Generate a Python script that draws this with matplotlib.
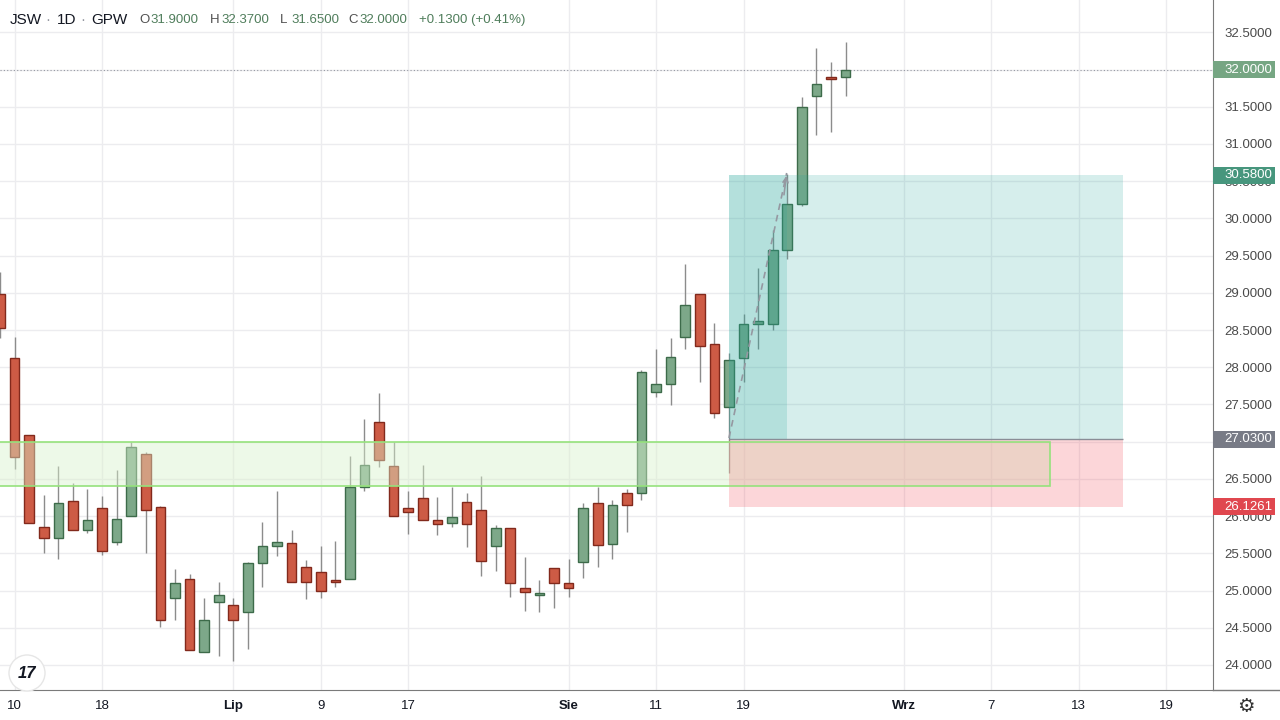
import matplotlib
matplotlib.use("Agg")
import matplotlib.pyplot as plt
from matplotlib.patches import Rectangle, Ellipse
from matplotlib.lines import Line2D

plt.rcParams['font.family'] = ['Liberation Sans', 'DejaVu Sans']

# daily candles, left to right (bar index = position)
opens = [28.99, 28.12, 27.09, 25.85, 25.71, 26.20, 25.81, 26.11, 25.65, 26.00,
         26.84, 26.12, 24.90, 25.15, 24.17, 24.84, 24.80, 24.71, 25.37, 25.60,
         25.64, 25.32, 25.25, 25.14, 25.16, 26.39, 27.27, 26.68, 26.11, 26.25,
         25.95, 25.91, 26.19, 26.08, 25.60, 25.84, 25.03, 24.94, 25.30, 25.10,
         25.39, 26.18, 25.62, 26.31, 26.31, 27.67, 27.78, 28.40, 28.99, 28.31,
         27.47, 28.12, 28.58, 28.58, 29.58, 30.20, 31.64, 31.90, 31.90]
highs = [29.28, 28.41, 27.09, 26.28, 26.68, 26.45, 26.36, 26.27, 26.62, 27.00,
         26.86, 26.14, 25.29, 25.22, 24.90, 25.11, 24.90, 25.39, 25.92, 26.34,
         25.81, 25.41, 25.60, 25.66, 26.81, 27.30, 27.65, 27.00, 26.34, 26.69,
         26.26, 26.39, 26.31, 26.54, 25.88, 25.84, 25.45, 25.14, 25.30, 25.42,
         26.18, 26.39, 26.22, 26.37, 27.96, 28.25, 28.39, 29.39, 28.99, 28.60,
         28.19, 28.72, 29.34, 29.85, 30.60, 31.63, 32.29, 32.10, 32.37]
lows = [28.39, 26.63, 25.91, 25.51, 25.43, 25.81, 25.77, 25.48, 25.61, 26.00,
        25.51, 24.51, 24.60, 24.20, 24.17, 24.12, 24.06, 24.22, 25.05, 25.47,
        25.11, 24.88, 24.90, 25.05, 25.16, 26.34, 26.66, 26.00, 25.76, 25.95,
        25.74, 25.86, 25.58, 25.20, 25.26, 24.92, 24.72, 24.71, 24.76, 24.91,
        25.17, 25.32, 25.42, 25.78, 26.22, 27.60, 27.49, 28.25, 27.80, 27.32,
        26.58, 27.80, 28.25, 28.50, 29.46, 30.16, 31.12, 31.16, 31.65]
closes = [28.53, 26.79, 25.91, 25.70, 26.18, 25.81, 25.95, 25.53, 25.96, 26.93,
          26.08, 24.60, 25.10, 24.20, 24.60, 24.94, 24.60, 25.37, 25.60, 25.65,
          25.11, 25.12, 25.00, 25.11, 26.39, 26.69, 26.75, 26.00, 26.05, 25.95,
          25.89, 25.99, 25.90, 25.40, 25.84, 25.10, 24.98, 24.94, 25.10, 25.04,
          26.11, 25.61, 26.15, 26.15, 27.93, 27.78, 28.14, 28.84, 28.28, 27.39,
          28.10, 28.58, 28.62, 29.58, 30.20, 31.50, 31.80, 31.87, 32.00]

tick_idx = [1, 7, 16, 22, 28, 39, 45, 51, 62, 68, 74, 80]
tick_text = ['10', '18', 'Lip', '9', '17', 'Sie', '11', '19', 'Wrz', '7', '13', '19']
month_ticks = ['Lip', 'Sie', 'Wrz']

# support zone and long position tool
zone_low, zone_high, zone_end = 26.40, 27.00, 72.0
entry, target, stop = 27.03, 30.58, 26.1261
pos_start, pos_end, pos_hit = 50, 77, 54
last_close = 32.00

UP, UP_EDGE = '#7da889', '#3d6b4a'
DOWN, DOWN_EDGE = '#cd5b45', '#82291c'
WICK = '#8c8c8c'
GRID = '#ececef'

fig = plt.figure(figsize=(12.8, 7.2), dpi=100)
ax = fig.add_axes([0, 30 / 720, 1213 / 1280, 690 / 720])
ax.set_xlim(0.0, 83.2)
ax.set_ylim(23.664, 32.934)

# candles
n = len(opens)
xs = list(range(n))
ax.vlines(xs, lows, highs, color=WICK, lw=1, zorder=2)
for i in xs:
    o, c = opens[i], closes[i]
    up = c >= o
    h = max(abs(c - o), 0.025)
    ax.bar(i, h, bottom=min(o, c), width=0.66,
           color=UP if up else DOWN, edgecolor=UP_EDGE if up else DOWN_EDGE,
           linewidth=1, zorder=3)

# support zone
ax.add_patch(Rectangle((-5, zone_low), zone_end + 5, zone_high - zone_low,
                       facecolor=(0.85, 0.95, 0.80), alpha=0.45, edgecolor='none', zorder=4))
ax.add_patch(Rectangle((-5, zone_low), zone_end + 5, zone_high - zone_low,
                       facecolor='none', edgecolor='#95e27c', lw=1.2, zorder=4.1))

# position tool
ax.add_patch(Rectangle((pos_start, entry), pos_end - pos_start, target - entry,
                       facecolor='#26a69a', alpha=0.19, edgecolor='none', zorder=4))
ax.add_patch(Rectangle((pos_start, entry), pos_hit - pos_start, target - entry,
                       facecolor='#26a69a', alpha=0.19, edgecolor='none', zorder=4))
ax.add_patch(Rectangle((pos_start, stop), pos_end - pos_start, entry - stop,
                       facecolor='#f23645', alpha=0.2, edgecolor='none', zorder=4))
ax.hlines(entry, pos_start, pos_end, color='#8a8d96', lw=1, zorder=5)
ax.plot([pos_start, pos_hit - 0.04], [entry + 0.02, target + 0.03], ls=(0, (4, 3)),
        color='#9598a1', lw=1.2, zorder=5)
ax.annotate('', xy=(pos_hit - 0.04, target + 0.03), xytext=(pos_hit - 0.25, target - 0.3),
            arrowprops=dict(arrowstyle='->', color='#9598a1', lw=1.2, mutation_scale=9),
            zorder=5)

# last price dotted line
ax.axhline(last_close, color='#9598a1', lw=0.8, ls=(0, (1, 2)), zorder=1)

# grid and axes
yt = [24.0 + 0.5 * k for k in range(18)]
ax.set_yticks(yt)
ax.set_xticks(tick_idx)
ax.grid(True, color=GRID, lw=1, zorder=0)
ax.set_axisbelow(True)
ax.yaxis.tick_right()
ax.set_yticklabels(['%.4f' % v for v in yt])
ax.set_xticklabels(tick_text)
for lab in ax.get_xticklabels():
    if lab.get_text() in month_ticks:
        lab.set_fontweight('bold')
ax.tick_params(axis='y', length=0, pad=8, labelsize=9.5, labelcolor='#4a4a4a')
ax.tick_params(axis='x', length=0, pad=7, labelsize=9.5, labelcolor='#131722')
for s in ['top', 'left']:
    ax.spines[s].set_visible(False)
for s in ['right', 'bottom']:
    ax.spines[s].set_color('#7a7a7a')
fig.add_artist(Line2D([1213 / 1280, 1], [30 / 720, 30 / 720], color='#7a7a7a', lw=1))

# price labels on the scale
tr = ax.get_yaxis_transform()
bw = 62 / 1213
bh = 17 / 74.435
for val, col, txt in [(last_close, '#76a683', '32.0000'), (target, '#47967d', '30.5800'),
                      (entry, '#787b86', '27.0300'), (stop, '#e0474f', '26.1261')]:
    ax.add_patch(Rectangle((1.0, val - bh / 2), bw, bh, transform=tr, facecolor=col,
                           edgecolor='none', clip_on=False, zorder=10))
    ax.text(1.0 + 11 / 1213, val, txt, transform=tr, color='white', fontsize=9.5,
            va='center', ha='left', clip_on=False, zorder=11)

# header
def px(x):
    return x / 1280


def py(y):
    return 1 - y / 720


for x, t, c in [(9.7, 'JSW', '#131722'), (45.5, '·', '#9598a1'), (57, '1D', '#131722'),
                (80.5, '·', '#9598a1'), (91, 'GPW', '#131722')]:
    fig.text(px(x), py(20), t, fontsize=11, color=c, va='center', ha='left')
for x, letter, val in [(139.6, 'O', '31.9000'), (210, 'H', '32.3700'),
                       (280, 'L', '31.6500'), (348, 'C', '32.0000')]:
    fig.text(px(x), py(20), letter, fontsize=9.5, color='#505050', va='center')
    fig.text(px(x + 11), py(20), val, fontsize=9.5, color='#4f7d5b', va='center')
fig.text(px(419), py(20), '+0.1300 (+0.41%)', fontsize=9.5, color='#4f7d5b', va='center')

# logo and settings icon
fig.add_artist(Ellipse((px(27), py(673)), 36 / 1280, 36 / 720, facecolor='white',
                       edgecolor='#e6e6e6', lw=1))
fig.text(px(27), py(673), '17', fontsize=12, fontweight='heavy', color='#131722',
         ha='center', va='center', style='italic')
fig.text(px(1246), py(706), '\u2699', fontsize=14, color='#333333', ha='center', va='center',
         family=['DejaVu Sans'])

fig.savefig('out.png', dpi=100, facecolor='white')
